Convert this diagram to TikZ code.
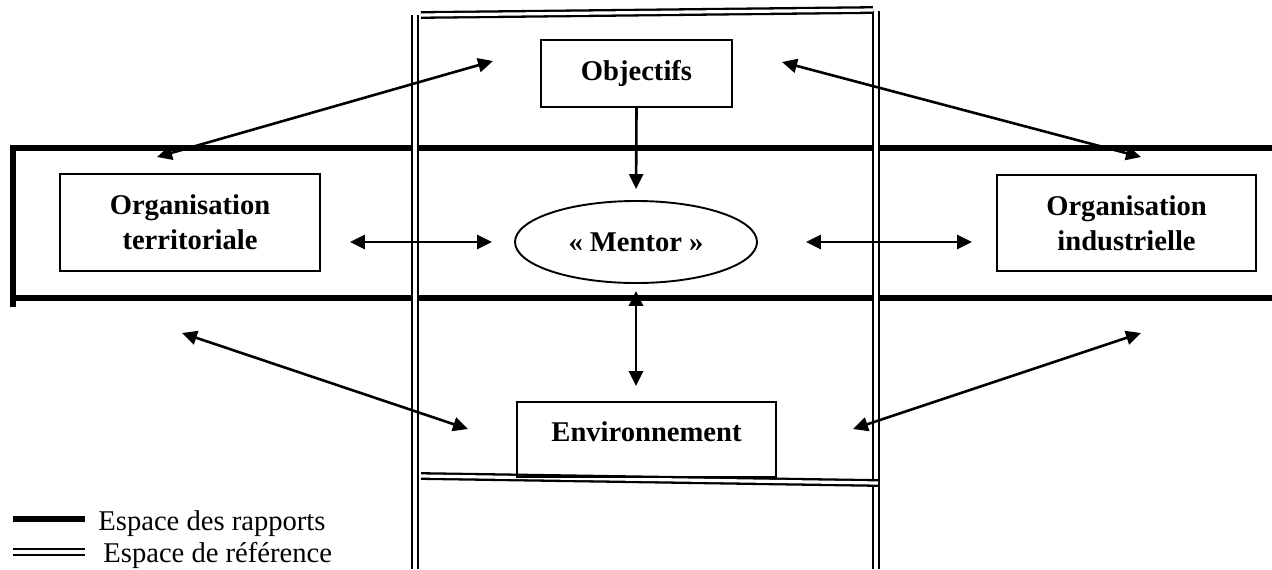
\documentclass[tikz,border=0pt]{standalone}
\usepackage{fontspec}
\setmainfont{Liberation Serif}
\usetikzlibrary{arrows.meta, shapes.geometric, calc}

\begin{document}
\begin{tikzpicture}[
    x=0.5pt, y=-0.5pt,
    box/.style={rectangle, draw=black, line width=0.95pt, align=center, font=\bfseries\fontsize{14.3}{17.5}\selectfont},
    mentor/.style={ellipse, draw=black, line width=0.95pt, font=\bfseries\fontsize{14.3}{17.5}\selectfont},
    rapport/.style={line width=2.6pt},
    reference/.style={double, line width=1.15pt, double distance=1.6pt},
    arr/.style={line width=1.3pt, >={Triangle[length=7.5pt,width=7pt]}},
    legend/.style={anchor=base west, inner sep=0pt, font=\fontsize{14.3}{17}\selectfont}
  ]
  \useasboundingbox (0,0) rectangle (1272,569);

  % espace des rapports
  \draw[rapport] (1272,148) -- (13,148) -- (13,307);
  \draw[rapport] (13,298) -- (1272,298);

  % espace de reference
  \draw[reference] (415,15) -- (415,569);
  \draw[reference] (876,11) -- (876,569);
  \draw[reference] (421,15) -- (873,10);
  \draw[reference] (421,476) -- (878,483);

  \node[box, minimum width=95.5pt, minimum height=33.5pt] (obj) at (636.5,73.5) {Objectifs};
  \node[box, minimum width=130pt, minimum height=48.5pt] (terr) at (190,222.5) {Organisation\\territoriale};
  \node[box, minimum width=129.5pt, minimum height=48pt] (indus) at (1126.5,223) {Organisation\\industrielle};
  \node[mentor, minimum width=121pt, minimum height=41pt] (mentor) at (636,242) {« Mentor »};
  \node[box, minimum width=129.5pt, minimum height=37.5pt, text depth=7.5pt] (env) at (646.5,439.5) {Environnement};

  \coordinate (tlA) at (157,157);
  \coordinate (tlB) at (493,61);
  \coordinate (trA) at (782,62);
  \coordinate (trB) at (1141,157);
  \coordinate (blA) at (182,333);
  \coordinate (blB) at (468,429);
  \coordinate (brA) at (853,429);
  \coordinate (brB) at (1141,333);

  \draw[arr, <->] (tlA) -- (tlB);
  \draw[arr, <->] (trA) -- (trB);
  \draw[arr, <->] (blA) -- (blB);
  \draw[arr, <->] (brA) -- (brB);

  \draw[arr, ->, shorten >=5.5pt] (obj.south) -- (mentor.north);
  \draw[arr, <->, shorten <=3.5pt, shorten >=7.5pt] (mentor.south) -- (mentor.south |- env.north);
  \draw[arr, <->, shorten <=14.5pt, shorten >=11pt] (terr.east |- mentor) -- (mentor.west);
  \draw[arr, <->, shorten <=24pt, shorten >=12pt] (mentor.east) -- (indus.west |- mentor);

  % legende
  \draw[rapport] (13,519) -- (85,519);
  \draw[reference] (13,552) -- (85,552);
  \node[legend] (lrap) at (98,530) {Espace des rapports};
  \node[legend] (lref) at (103,562) {Espace de référence};

\end{tikzpicture}
\end{document}
